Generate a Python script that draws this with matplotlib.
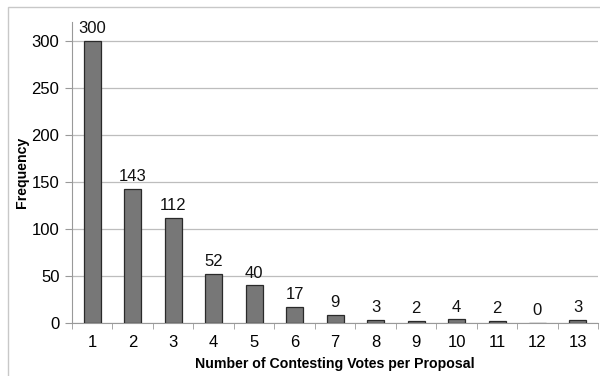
import numpy as np
import matplotlib
matplotlib.use("Agg")
import matplotlib.pyplot as plt
from matplotlib.patches import Rectangle

# Number of contesting votes per proposal vs frequency
votes = [1, 2, 3, 4, 5, 6, 7, 8, 9, 10, 11, 12, 13]
freq = [300, 143, 112, 52, 40, 17, 9, 3, 2, 4, 2, 0, 3]

plt.rcParams['font.family'] = ['Liberation Sans', 'DejaVu Sans']

fig = plt.figure(figsize=(6.0, 3.76), dpi=100)
ax = fig.add_axes([0.12, 0.141, 0.877, 0.80])

x = np.arange(len(votes))
ax.bar(x, freq, width=0.42, color='#777777', edgecolor='#2a2a2a', linewidth=0.9, zorder=3)

# labels above bars
for xi, v in zip(x, freq):
    ax.text(xi, v + 5, str(v), ha='center', va='bottom', fontsize=12, color='#111111')

ax.set_xlim(-0.5, len(votes) - 0.5)
ax.set_ylim(0, 320)
ax.set_yticks(np.arange(0, 301, 50))
ax.set_xticks(x)
ax.set_xticklabels([str(v) for v in votes])
ax.set_xticks(np.arange(-0.5, len(votes), 1), minor=True)
ax.tick_params(axis='x', which='major', length=0, pad=9, labelsize=12)
ax.tick_params(axis='x', which='minor', length=4, direction='out', color='#999999')
ax.tick_params(axis='y', length=5, direction='out', color='#999999', labelsize=12, pad=4)

ax.grid(axis='y', color='#bdbdbd', linewidth=0.9, zorder=0)
for s in ['top', 'right']:
    ax.spines[s].set_visible(False)
ax.spines['left'].set_color('#999999')
ax.spines['bottom'].set_color('#999999')

ax.set_xlabel('Number of Contesting Votes per Proposal', fontsize=10.2, fontweight='bold', labelpad=5)
ax.set_ylabel('Frequency', fontsize=10.2, fontweight='bold', labelpad=2)

# light frame around the chart
fig.patches.append(Rectangle((8 / 600, -0.02), 1.0, 1 - 7 / 376 + 0.02, transform=fig.transFigure,
                             fill=False, edgecolor='#c8c8c8', linewidth=1.0))

fig.savefig('out.png', dpi=100)
